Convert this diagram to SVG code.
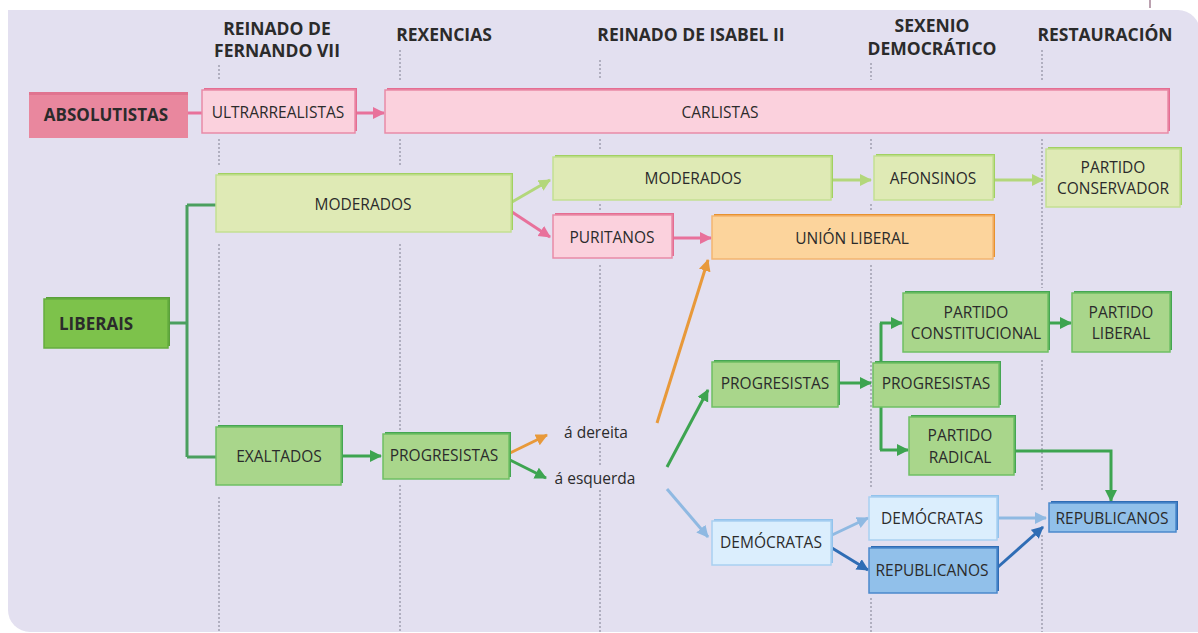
<svg xmlns="http://www.w3.org/2000/svg" width="1198" height="633" viewBox="0 0 1198 633">
<style>
text{font-family:"Open Sans","Noto Sans","Liberation Sans",sans-serif;fill:#2b2b2b;font-size:15.5px;text-anchor:middle;dominant-baseline:central}
.hd{font-weight:700;font-size:17.5px;dominant-baseline:auto}
.bd{font-weight:700;font-size:17px}
.dash{stroke:#7f7f8f;stroke-width:1;stroke-dasharray:2 2;fill:none}
.pkB{fill:#e56d92}.pkF{fill:#fbd1dd;stroke:#e98aa7;stroke-width:1.5}
.lgB{fill:#a2d162}.lgF{fill:#dfeab5;stroke:#c4df93;stroke-width:1.5}
.gB{fill:#45a653}.gF{fill:#a9d68b;stroke:#6fbf63;stroke-width:1.5}
.orB{fill:#e8922f}.orF{fill:#fcd49c;stroke:#f3b570;stroke-width:1.5}
.lbB{fill:#92c3ec}.lbF{fill:#dbeefd;stroke:#a9d0f1;stroke-width:1.5}
.dbB{fill:#2f6cb4}.dbF{fill:#91c0ea;stroke:#4b88cb;stroke-width:1.5}
.c{fill:none;stroke-width:3}
.cpk{stroke:#e8719b}.clg{stroke:#b3d77b}.cg{stroke:#3da450}.cor{stroke:#e8993a}.clb{stroke:#8fb9e2}.cdb{stroke:#2f6db5}.ctree{stroke:#4a9f5e}
</style>
<defs>
<marker id="apk" markerUnits="userSpaceOnUse" markerWidth="14" markerHeight="14" refX="11" refY="6" orient="auto"><path d="M0,0 L12,6 L0,12 Z" fill="#e8719b"/></marker>
<marker id="alg" markerUnits="userSpaceOnUse" markerWidth="14" markerHeight="14" refX="11" refY="6" orient="auto"><path d="M0,0 L12,6 L0,12 Z" fill="#b3d77b"/></marker>
<marker id="ag" markerUnits="userSpaceOnUse" markerWidth="14" markerHeight="14" refX="11" refY="6" orient="auto"><path d="M0,0 L12,6 L0,12 Z" fill="#3da450"/></marker>
<marker id="aor" markerUnits="userSpaceOnUse" markerWidth="14" markerHeight="14" refX="11" refY="6" orient="auto"><path d="M0,0 L12,6 L0,12 Z" fill="#e8993a"/></marker>
<marker id="alb" markerUnits="userSpaceOnUse" markerWidth="14" markerHeight="14" refX="11" refY="6" orient="auto"><path d="M0,0 L12,6 L0,12 Z" fill="#8fb9e2"/></marker>
<marker id="adb" markerUnits="userSpaceOnUse" markerWidth="14" markerHeight="14" refX="11" refY="6" orient="auto"><path d="M0,0 L12,6 L0,12 Z" fill="#2f6db5"/></marker>
</defs>
<rect x="0" y="0" width="1198" height="633" fill="#ffffff"/>
<path d="M8,10 H1178 A22,22 0 0 1 1200,32 V632 H30 A22,22 0 0 1 8,610 Z" fill="#e3e0f0"/>
<line x1="1150" y1="0" x2="1150" y2="8" stroke="#a58296" stroke-width="1.5"/>

<g id="headers">
<text class="hd" x="277" y="35">REINADO DE</text>
<text class="hd" x="277" y="57">FERNANDO VII</text>
<text class="hd" x="444" y="41">REXENCIAS</text>
<text class="hd" x="691" y="41">REINADO DE ISABEL II</text>
<text class="hd" x="932" y="32">SEXENIO</text>
<text class="hd" x="932" y="55">DEMOCRÁTICO</text>
<text class="hd" x="1105" y="41">RESTAURACIÓN</text>
</g>

<g id="timelines">
<path class="dash" d="M219,65V80 M219,139V167 M219,244V423 M219,497V632"/>
<path class="dash" d="M400,50V80 M400,139V167 M400,244V430 M400,485V632"/>
<path class="dash" d="M600,60V80 M600,139V149 M600,204V211 M600,265V422 M600,443V466 M600,490V632"/>
<path class="dash" d="M871,63V80 M871,139V149 M871,204V211 M871,265V487 M871,598V632"/>
<path class="dash" d="M1042,50V80 M1042,139V288 M1042,360V490 M1042,535V632"/>
</g>

<g id="connectors">
<line class="c cpk" x1="188" y1="113" x2="202" y2="113"/>
<line class="c cpk" x1="355" y1="113" x2="384" y2="113" marker-end="url(#apk)"/>
<path class="c ctree" d="M168,323H187 M187,205V457 M187,205H216 M187,457H216"/>
<line class="c clg" x1="512" y1="202" x2="550" y2="180" marker-end="url(#alg)"/>
<line class="c cpk" x1="512" y1="212" x2="550" y2="237" marker-end="url(#apk)"/>
<line class="c clg" x1="832" y1="180" x2="871" y2="180" marker-end="url(#alg)"/>
<line class="c clg" x1="994" y1="180" x2="1043" y2="180" marker-end="url(#alg)"/>
<line class="c cpk" x1="673" y1="238" x2="711" y2="238" marker-end="url(#apk)"/>
<line class="c cg" x1="342" y1="456" x2="381" y2="456" marker-end="url(#ag)"/>
<line class="c cor" x1="510" y1="453" x2="547" y2="435" marker-end="url(#aor)"/>
<line class="c cg" x1="510" y1="460" x2="546" y2="478" marker-end="url(#ag)"/>
<line class="c cor" x1="657" y1="423" x2="708" y2="260" marker-end="url(#aor)"/>
<line class="c cg" x1="667" y1="467" x2="708" y2="390" marker-end="url(#ag)"/>
<line class="c clb" x1="667" y1="489" x2="708" y2="537" marker-end="url(#alb)"/>
<line class="c cg" x1="839" y1="383" x2="871" y2="383" marker-end="url(#ag)"/>
<path class="c cg" d="M881,450V323"/>
<line class="c cg" x1="880" y1="323" x2="902" y2="323" marker-end="url(#ag)"/>
<line class="c cg" x1="880" y1="450" x2="908" y2="450" marker-end="url(#ag)"/>
<line class="c cg" x1="1049" y1="323" x2="1071" y2="323" marker-end="url(#ag)"/>
<path class="c cg" d="M1015,451H1111V501" marker-end="url(#ag)"/>
<line class="c clb" x1="832" y1="535" x2="868" y2="518" marker-end="url(#alb)"/>
<line class="c cdb" x1="832" y1="548" x2="868" y2="570" marker-end="url(#adb)"/>
<line class="c clb" x1="998" y1="518" x2="1046" y2="518" marker-end="url(#alb)"/>
<line class="c cdb" x1="998" y1="567" x2="1043" y2="527" marker-end="url(#adb)"/>
</g>

<g id="absolutistas"><rect x="29" y="92" width="159" height="46" fill="#e9879e"/><rect x="29" y="92" width="159" height="3" fill="#e07490"/><text class="bd" x="106" y="114">ABSOLUTISTAS</text></g>
<g id="ultrarrealistas"><rect class="pkB" x="204" y="88" width="153" height="43"/><rect class="pkF" x="202" y="90" width="153" height="43"/><text x="278" y="112">ULTRARREALISTAS</text></g>
<g id="carlistas"><rect class="pkB" x="387" y="88" width="783" height="43"/><rect class="pkF" x="385" y="90" width="783" height="43"/><text x="720" y="112">CARLISTAS</text></g>
<g id="moderados1"><rect class="lgB" x="218" y="173" width="295" height="57"/><rect class="lgF" x="216" y="175" width="295" height="57"/><text x="363" y="204">MODERADOS</text></g>
<g id="moderados2"><rect class="lgB" x="555" y="155" width="278" height="43"/><rect class="lgF" x="553" y="157" width="278" height="43"/><text x="693" y="178">MODERADOS</text></g>
<g id="puritanos"><rect class="pkB" x="555" y="213" width="119" height="43"/><rect class="pkF" x="553" y="215" width="119" height="43"/><text x="612" y="237">PURITANOS</text></g>
<g id="union-liberal"><rect class="orB" x="714" y="214" width="281" height="43"/><rect class="orF" x="712" y="216" width="281" height="43"/><text x="852" y="238">UNIÓN LIBERAL</text></g>
<g id="afonsinos"><rect class="lgB" x="876" y="154" width="119" height="44"/><rect class="lgF" x="874" y="156" width="119" height="44"/><text x="933" y="178">AFONSINOS</text></g>
<g id="partido-conservador"><rect class="lgB" x="1048" y="147" width="134" height="58"/><rect class="lgF" x="1046" y="149" width="134" height="58"/><text x="1113" y="167">PARTIDO</text><text x="1113" y="188">CONSERVADOR</text></g>
<g id="liberais"><rect x="46" y="297" width="124" height="49" fill="#5aa03a"/><rect x="44" y="299" width="124" height="49" fill="#7dc24b" stroke="#66ad3f" stroke-width="1.5"/><text class="bd" x="59" y="323" style="text-anchor:start">LIBERAIS</text></g>
<g id="exaltados"><rect class="gB" x="218" y="425" width="125" height="58"/><rect class="gF" x="216" y="427" width="125" height="58"/><text x="279" y="456">EXALTADOS</text></g>
<g id="progresistas1"><rect class="gB" x="385" y="432" width="126" height="45"/><rect class="gF" x="383" y="434" width="126" height="45"/><text x="444" y="455">PROGRESISTAS</text></g>
<g id="dereita"><text x="596" y="432">á dereita</text></g>
<g id="esquerda"><text x="595" y="478">á esquerda</text></g>
<g id="progresistas2"><rect class="gB" x="714" y="360" width="126" height="45"/><rect class="gF" x="712" y="362" width="126" height="45"/><text x="775" y="383">PROGRESISTAS</text></g>
<g id="progresistas3"><rect class="gB" x="875" y="361" width="126" height="44"/><rect class="gF" x="873" y="363" width="126" height="44"/><text x="936" y="383">PROGRESISTAS</text></g>
<g id="partido-constitucional"><rect class="gB" x="905" y="291" width="145" height="59"/><rect class="gF" x="903" y="293" width="145" height="59"/><text x="976" y="312">PARTIDO</text><text x="976" y="333">CONSTITUCIONAL</text></g>
<g id="partido-liberal"><rect class="gB" x="1074" y="291" width="98" height="59"/><rect class="gF" x="1072" y="293" width="98" height="59"/><text x="1121" y="312">PARTIDO</text><text x="1121" y="333">LIBERAL</text></g>
<g id="partido-radical"><rect class="gB" x="911" y="415" width="105" height="58"/><rect class="gF" x="909" y="417" width="105" height="58"/><text x="960" y="435">PARTIDO</text><text x="960" y="457">RADICAL</text></g>
<g id="democratas1"><rect class="lbB" x="714" y="519" width="119" height="44"/><rect class="lbF" x="712" y="521" width="119" height="44"/><text x="771" y="542">DEMÓCRATAS</text></g>
<g id="democratas2"><rect class="lbB" x="871" y="495" width="128" height="43"/><rect class="lbF" x="869" y="497" width="128" height="43"/><text x="932" y="518">DEMÓCRATAS</text></g>
<g id="republicanos1"><rect class="dbB" x="871" y="546" width="128" height="45"/><rect class="dbF" x="869" y="548" width="128" height="45"/><text x="932" y="570">REPUBLICANOS</text></g>
<g id="republicanos2"><rect class="dbB" x="1051" y="501" width="127" height="29"/><rect class="dbF" x="1049" y="503" width="127" height="29"/><text x="1112" y="518">REPUBLICANOS</text></g>
</svg>
